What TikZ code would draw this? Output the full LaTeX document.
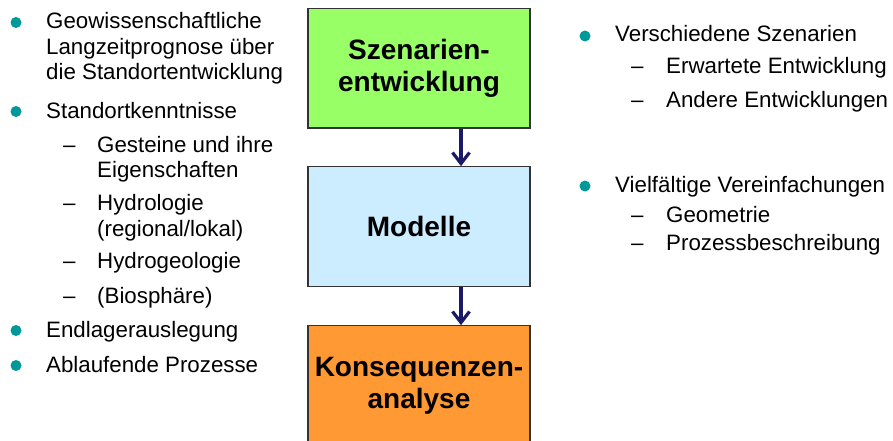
\documentclass[tikz,border=0pt]{standalone}
\usepackage{fontspec}
\setmainfont{Liberation Sans}
\usetikzlibrary{arrows.meta}
\definecolor{teal1}{RGB}{0,153,153}
\definecolor{boxgreen}{RGB}{153,255,102}
\definecolor{boxblue}{RGB}{204,236,255}
\definecolor{boxorange}{RGB}{255,153,51}
\definecolor{navy1}{RGB}{26,26,102}
\begin{document}
\begin{tikzpicture}[x=1pt,y=-1pt,
  txt/.style={anchor=base west, inner sep=0pt, font=\fontsize{22.3}{26}\selectfont},
  boxtxt/.style={font=\fontsize{28}{32}\selectfont\bfseries, align=center},
  flowbox/.style={draw=black!80, line width=1.2pt, minimum width=222pt, minimum height=119.5pt, inner sep=0pt},
  flowarrow/.style={navy1, line width=3.2pt, -{Straight Barb[length=11pt,width=17pt]}},
  bul/.style={teal1}]
\useasboundingbox (0,0) rectangle (893,441);
\clip (0,0) rectangle (893,441);
% boxes
\node[flowbox, fill=boxgreen, boxtxt] (szen) at (419,68.25) {Szenarien-\\entwicklung};
\node[flowbox, fill=boxblue, boxtxt] (mod) at (419,226.5) {Modelle};
\node[flowbox, fill=boxorange, boxtxt] (kons) at (419,385.5) {Konsequenzen-\\analyse};
\draw[flowarrow] ([xshift=42pt]szen.south) -- ([xshift=42pt]mod.north);
\draw[flowarrow] ([xshift=42pt]mod.south) -- ([xshift=42pt]kons.north);
% left column
\fill[bul] (16,22.5) circle (5.5pt);
\node[txt] (l1a) at (46,29) {Geowissenschaftliche};
\node[txt] (l1b) at (46,54.5) {Langzeitprognose über};
\node[txt] (l1c) at (46,80) {die Standortentwicklung};
\fill[bul] (16,111.5) circle (5.5pt);
\node[txt] (l2) at (46,118) {Standortkenntnisse};
\node[txt] (d1) at (63,152) {–};
\node[txt] (l2a1) at (97,152) {Gesteine und ihre};
\node[txt] (l2a2) at (97,177) {Eigenschaften};
\node[txt] (d2) at (63,210) {–};
\node[txt] (l2b1) at (97,210) {Hydrologie};
\node[txt] (l2b2) at (97,236) {(regional/lokal)};
\node[txt] (d3) at (63,268) {–};
\node[txt] (l2c) at (97,268) {Hydrogeologie};
\node[txt] (d4) at (63,303) {–};
\node[txt] (l2d) at (97,303) {(Biosphäre)};
\fill[bul] (16,330.5) circle (5.5pt);
\node[txt] (l3) at (46,337) {Endlagerauslegung};
\fill[bul] (16,365.5) circle (5.5pt);
\node[txt] (l4) at (46,372) {Ablaufende Prozesse};
% right column
\fill[bul] (585,36) circle (5.5pt);
\node[txt] (r1) at (615,42) {Verschiedene Szenarien};
\node[txt] (rd1) at (631,74) {–};
\node[txt] (r1a) at (666,74) {Erwartete Entwicklung};
\node[txt] (rd2) at (631,107) {–};
\node[txt] (r1b) at (666,107) {Andere Entwicklungen};
\fill[bul] (585,186) circle (5.5pt);
\node[txt] (r2) at (615,192) {Vielfältige Vereinfachungen};
\node[txt] (rd3) at (631,222) {–};
\node[txt] (r2a) at (666,222) {Geometrie};
\node[txt] (rd4) at (631,250) {–};
\node[txt] (r2b) at (666,250) {Prozessbeschreibung};
\end{tikzpicture}
\end{document}
